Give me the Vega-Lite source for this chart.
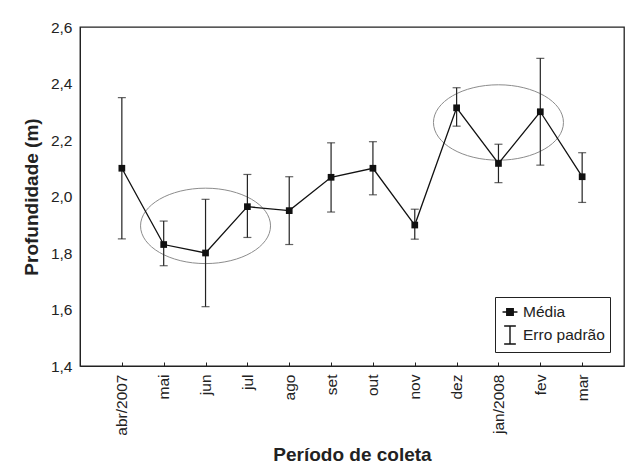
{
  "$schema": "https://vega.github.io/schema/vega-lite/v6.json",
  "width": 544,
  "height": 339,
  "autosize": {"type": "none"},
  "padding": {"left": 80, "top": 27, "right": 2, "bottom": 104},
  "background": "white",
  "config": {
    "view": {"stroke": "#222", "strokeWidth": 1.3},
    "font": "Liberation Sans",
    "axis": {
      "labelFont": "Liberation Sans",
      "titleFont": "Liberation Sans",
      "labelColor": "#222",
      "titleColor": "#222",
      "domainColor": "#222",
      "tickColor": "#222",
      "grid": false
    }
  },
  "datasets": {
    "dados": [
      {"mes": "abr/2007", "media": 2.10, "inferior": 1.85, "superior": 2.35},
      {"mes": "mai", "media": 1.83, "inferior": 1.755, "superior": 1.913},
      {"mes": "jun", "media": 1.80, "inferior": 1.61, "superior": 1.99},
      {"mes": "jul", "media": 1.964, "inferior": 1.855, "superior": 2.078},
      {"mes": "ago", "media": 1.95, "inferior": 1.83, "superior": 2.07},
      {"mes": "set", "media": 2.068, "inferior": 1.945, "superior": 2.19},
      {"mes": "out", "media": 2.10, "inferior": 2.006, "superior": 2.194},
      {"mes": "nov", "media": 1.899, "inferior": 1.849, "superior": 1.955},
      {"mes": "dez", "media": 2.314, "inferior": 2.249, "superior": 2.385},
      {"mes": "jan/2008", "media": 2.117, "inferior": 2.049, "superior": 2.185},
      {"mes": "fev", "media": 2.30, "inferior": 2.111, "superior": 2.489},
      {"mes": "mar", "media": 2.07, "inferior": 1.979, "superior": 2.155}
    ],
    "elipses": [
      {"mes": "jun", "centro": 1.896},
      {"mes": "jan/2008", "centro": 2.262}
    ],
    "legenda": [
      {"mes": "abr/2007", "media": 2.10, "serie": "Média"},
      {"mes": "abr/2007", "media": 2.10, "serie": "Erro padrão"}
    ]
  },
  "encoding": {
    "x": {
      "field": "mes",
      "type": "nominal",
      "sort": ["abr/2007", "mai", "jun", "jul", "ago", "set", "out", "nov", "dez", "jan/2008", "fev", "mar"],
      "scale": {"type": "point", "padding": 1},
      "axis": {
        "title": "Período de coleta",
        "titleFontSize": 19,
        "titleFontWeight": "bold",
        "titlePadding": 10,
        "labelAngle": -90,
        "labelFontSize": 15.5,
        "labelPadding": 12,
        "tickSize": -4
      }
    }
  },
  "layer": [
    {
      "data": {"name": "elipses"},
      "mark": {
        "type": "point",
        "shape": "M 1 0 C 1 0.32 0.552 0.58 0 0.58 C -0.552 0.58 -1 0.32 -1 0 C -1 -0.32 -0.552 -0.58 0 -0.58 C 0.552 -0.58 1 -0.32 1 0 Z",
        "size": 16900,
        "filled": false,
        "stroke": "#8c8c8c",
        "strokeWidth": 1,
        "opacity": 1
      },
      "encoding": {
        "y": {
          "field": "centro",
          "type": "quantitative",
          "scale": {"domain": [1.4, 2.6], "nice": false, "zero": false},
          "axis": {
            "title": "Profundidade (m)",
            "titleFontSize": 19,
            "titleFontWeight": "bold",
            "titlePadding": 9,
            "labelFontSize": 15.5,
            "labelPadding": 8,
            "ticks": false,
            "values": [1.4, 1.6, 1.8, 2.0, 2.2, 2.4, 2.6],
            "labelExpr": "replace(format(datum.value, '.1f'), '.', ',')"
          }
        }
      }
    },
    {
      "data": {"name": "dados"},
      "mark": {"type": "rule", "color": "#222", "strokeWidth": 1.2},
      "encoding": {
        "y": {"field": "inferior", "type": "quantitative"},
        "y2": {"field": "superior"}
      }
    },
    {
      "data": {"name": "dados"},
      "mark": {"type": "tick", "color": "#222", "size": 8, "thickness": 1.2, "orient": "horizontal"},
      "encoding": {
        "y": {"field": "inferior", "type": "quantitative"}
      }
    },
    {
      "data": {"name": "dados"},
      "mark": {"type": "tick", "color": "#222", "size": 8, "thickness": 1.2, "orient": "horizontal"},
      "encoding": {
        "y": {"field": "superior", "type": "quantitative"}
      }
    },
    {
      "data": {"name": "dados"},
      "mark": {"type": "line", "color": "#111", "strokeWidth": 1.3},
      "encoding": {
        "y": {"field": "media", "type": "quantitative"}
      }
    },
    {
      "data": {"name": "dados"},
      "mark": {"type": "point", "shape": "square", "filled": true, "color": "#111", "opacity": 1, "size": 45},
      "encoding": {
        "y": {"field": "media", "type": "quantitative"}
      }
    },
    {
      "data": {"name": "legenda"},
      "mark": {"type": "point", "filled": false, "color": "#111", "opacity": 0, "strokeWidth": 1.4},
      "encoding": {
        "y": {"field": "media", "type": "quantitative"},
        "shape": {
          "field": "serie",
          "type": "nominal",
          "scale": {
            "domain": ["Média", "Erro padrão"],
            "range": [
              "M -0.83 0 L 0.83 0 M -0.36 -0.36 L 0.36 -0.36 L 0.36 0.36 L -0.36 0.36 Z M -0.36 -0.22 L 0.36 -0.22 M -0.36 -0.1 L 0.36 -0.1 M -0.36 0.1 L 0.36 0.1 M -0.36 0.22 L 0.36 0.22",
              "M -0.65 -1 L 0.65 -1 M 0 -1 L 0 1 M -0.65 1 L 0.65 1"
            ]
          },
          "legend": {
            "title": null,
            "orient": "bottom-right",
            "offset": 14,
            "strokeColor": "#222",
            "padding": 5,
            "rowPadding": 2,
            "labelFont": "Liberation Sans",
            "labelFontSize": 15.5,
            "labelColor": "#222",
            "labelOffset": 3,
            "symbolSize": 324,
            "symbolOpacity": 1,
            "symbolStrokeColor": "#111",
            "symbolStrokeWidth": 1.4
          }
        }
      }
    }
  ]
}
